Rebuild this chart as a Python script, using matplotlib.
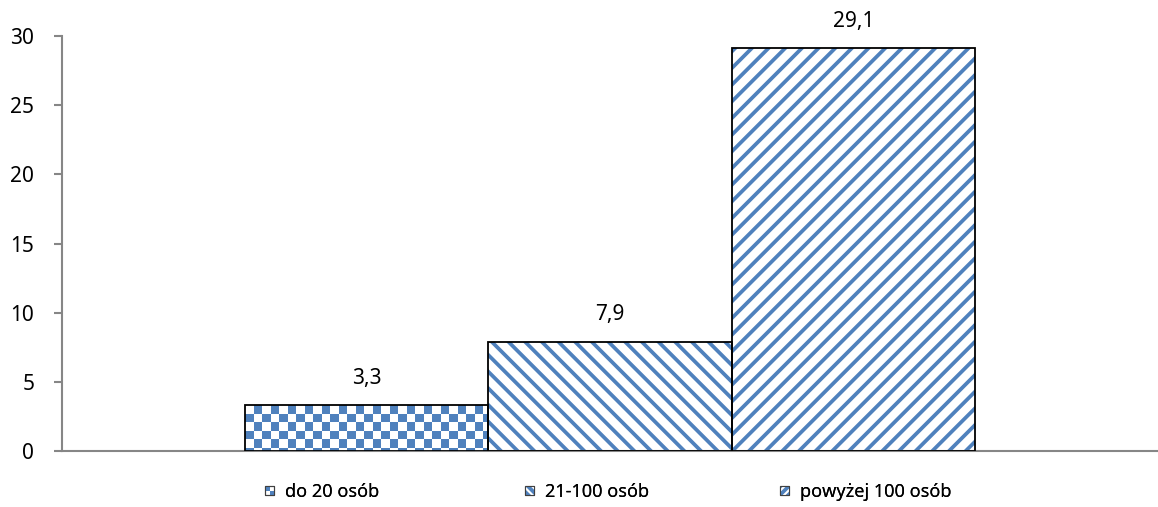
import numpy as np
import matplotlib
matplotlib.use("Agg")
import matplotlib.pyplot as plt
from matplotlib.patches import Rectangle
from matplotlib.legend_handler import HandlerBase
from matplotlib.colors import ListedColormap

plt.rcParams['font.family'] = ['Noto Sans', 'DejaVu Sans']
plt.rcParams['hatch.linewidth'] = 2.7

# Data
series = ["do 20 osób", "21-100 osób", "powyżej 100 osób"]
values = [3.3, 7.9, 29.1]
yticks = [0, 5, 10, 15, 20, 25, 30]

BLUE = "#4F81BD"
GRAY = "#868686"

W, H = 1158, 507
fig = plt.figure(figsize=(W / 100, H / 100), dpi=100)
ax = fig.add_axes([62 / W, 1 - 451 / H, 1 - 62 / W, (451 - 36) / H])

xs = np.arange(len(values)) - 1.0
ax.set_xlim(-2.25, 2.25)
ax.set_ylim(0, 30)

hatches = [None, "\\\\", "//"]
bars = []
for x, v, h in zip(xs, values, hatches):
    if h is None:
        b = ax.bar(x, v, width=1.0, color="white", edgecolor="none", lw=0, zorder=2)
    else:
        b = ax.bar(x, v, width=1.0, color="white", edgecolor=BLUE, lw=0,
                   hatch=h, zorder=2)
    bars.append(b[0])
    ax.bar(x, v, width=1.0, fill=False, edgecolor="black", lw=1.3, zorder=4)

# Checkerboard fill for the first bar, clipped to its rectangle
ax_px_w = (1 - 62 / W) * W
ax_px_h = (451 - 36)
dx = 4.5 / ax_px_w
dy = 30 / ax_px_h
sq = 8.5
bar0 = bars[0]
bw_px = 1.0 / dx
bh_px = values[0] / dy
ncol = int(np.ceil(bw_px / sq)) + 1
nrow = int(np.ceil(bh_px / sq)) + 1
checker = (np.indices((nrow, ncol)).sum(axis=0) % 2).astype(float)
cmap = ListedColormap(["white", BLUE])
x0 = xs[0] - 0.5
y_top = values[0]
img = ax.imshow(checker, cmap=cmap, interpolation="nearest", origin="upper",
                extent=(x0, x0 + ncol * sq * dx, y_top - nrow * sq * dy, y_top),
                aspect="auto", zorder=3)
img.set_clip_path(bar0)
ax.set_xlim(-2.25, 2.25)
ax.set_ylim(0, 30)

# Value labels
for x, v in zip(xs, values):
    ax.annotate(f"{v:.1f}".replace(".", ","), (x, v), xytext=(0, 12),
                textcoords="offset points", ha="center", va="bottom",
                fontsize=15, color="black")

# Axes styling
for s in ["top", "right"]:
    ax.spines[s].set_visible(False)
ax.spines["left"].set_color(GRAY)
ax.spines["bottom"].set_color(GRAY)
ax.spines["left"].set_linewidth(1.5)
ax.spines["bottom"].set_linewidth(1.5)
ax.set_yticks(yticks)
ax.set_yticklabels([str(t) for t in yticks])
ax.tick_params(axis="y", length=6, width=1.5, color=GRAY, labelsize=15, pad=14)
ax.set_xticks([])


class CheckerHandler(HandlerBase):
    def create_artists(self, legend, orig_handle, xdescent, ydescent,
                       width, height, fontsize, trans):
        arts = []
        s = min(width, height)
        x0 = -xdescent + (width - s) / 2
        y0 = -ydescent + (height - s) / 2
        h = s / 2
        for (i, j) in [(0, 1), (1, 0)]:
            r = Rectangle((x0 + i * h, y0 + j * h), h, h, facecolor=BLUE,
                          edgecolor="none", transform=trans)
            arts.append(r)
        arts.append(Rectangle((x0, y0), s, s, facecolor="none",
                              edgecolor="#404040", lw=0.8, transform=trans))
        return arts


class HatchHandler(HandlerBase):
    def __init__(self, hatch):
        super().__init__()
        self.hatch = hatch

    def create_artists(self, legend, orig_handle, xdescent, ydescent,
                       width, height, fontsize, trans):
        s = min(width, height)
        x0 = -xdescent + (width - s) / 2
        y0 = -ydescent + (height - s) / 2
        r1 = Rectangle((x0, y0), s, s, facecolor="white", edgecolor=BLUE,
                       lw=0, hatch=self.hatch, transform=trans)
        r2 = Rectangle((x0, y0), s, s, facecolor="none",
                       edgecolor="#404040", lw=0.8, transform=trans)
        return [r1, r2]


handlers = [CheckerHandler(), HatchHandler("\\\\\\\\"), HatchHandler("////")]
starts = [265, 525, 780]
for name, hdl, xs0 in zip(series, handlers, starts):
    h = Rectangle((0, 0), 1, 1)
    leg = fig.legend([h], [name], loc="center left",
                     bbox_to_anchor=(xs0 / W, 1 - 492 / H),
                     frameon=False, fontsize=13, handlelength=0.5,
                     handleheight=0.5, handletextpad=0.6, borderaxespad=0,
                     borderpad=0, handler_map={h: hdl})
    fig.add_artist(leg)

fig.savefig("out.png", dpi=100)
